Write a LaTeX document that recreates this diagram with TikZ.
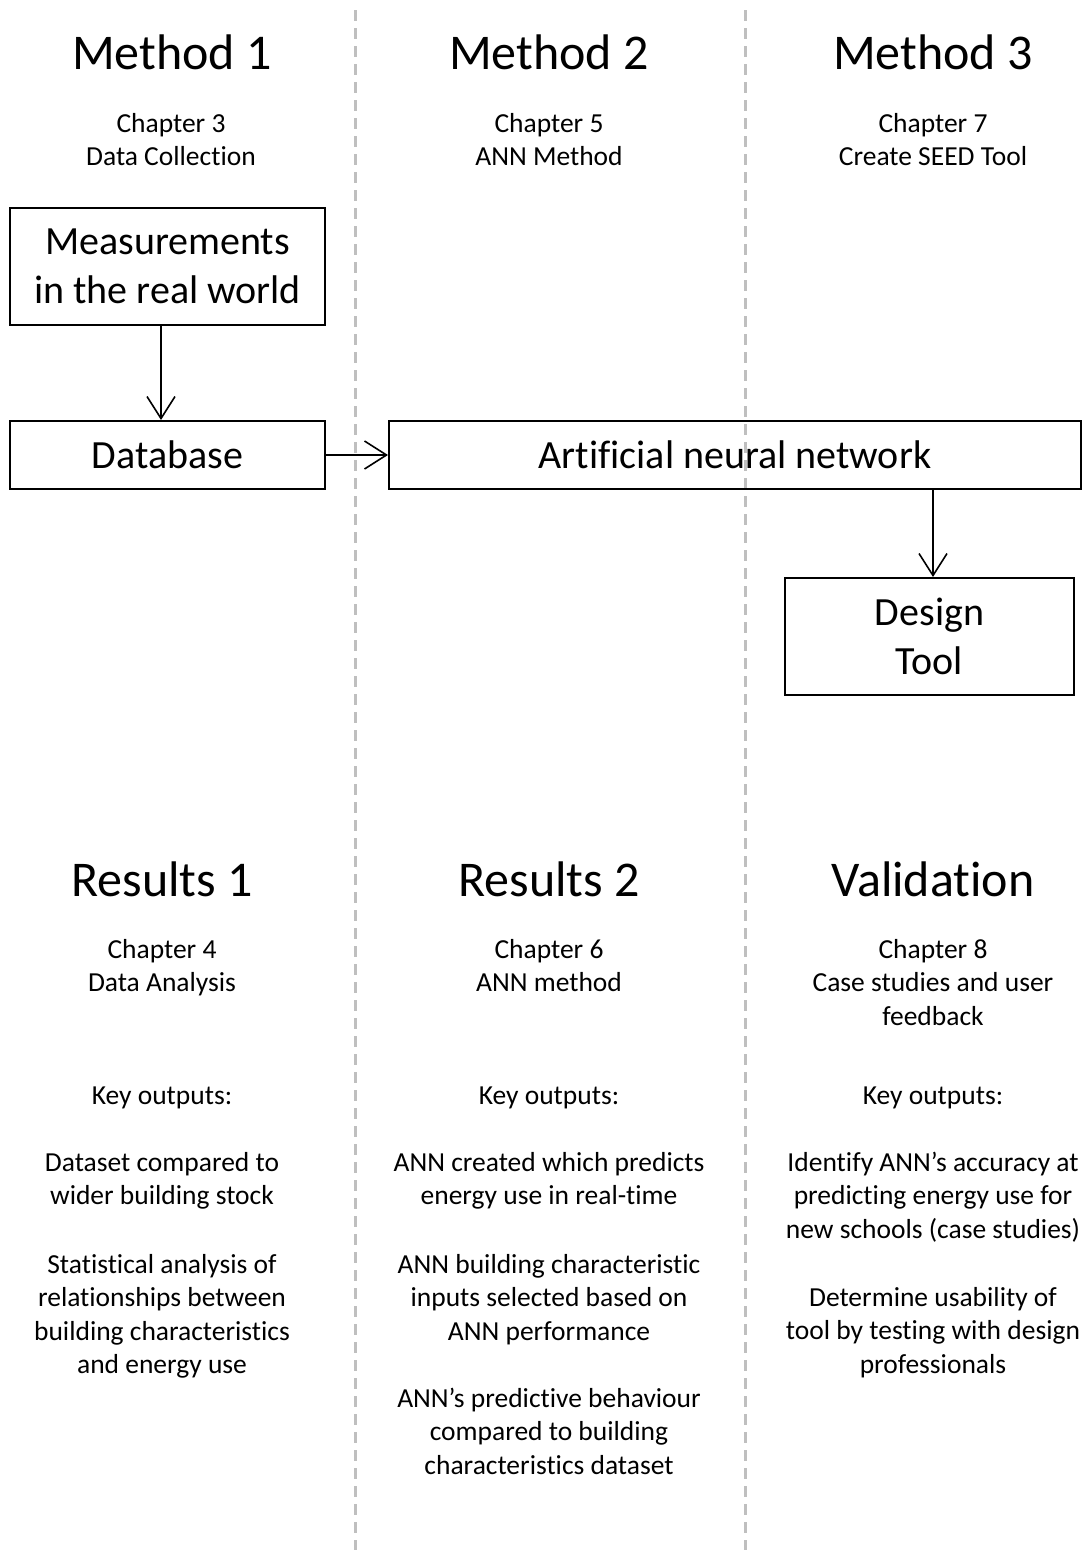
\documentclass[tikz,border=0pt]{standalone}
\usepackage{fontspec}
\setmainfont{Carlito}[Ligatures={NoCommon}]
\usetikzlibrary{arrows.meta}
\begin{document}
\begin{tikzpicture}[x=1pt,y=-1pt,
  box/.style={draw,line width=2pt,inner sep=0pt,font=\fontsize{40}{48.5}\selectfont,align=center},
  head/.style={font=\fontsize{50}{60}\selectfont,anchor=base,inner sep=0pt},
  txt/.style={font=\fontsize{27.5}{33.5}\selectfont,align=center,anchor=base,inner sep=0pt},
  arr/.style={line width=1.6pt,-{Straight Barb[length=22pt,width=28pt,line width=1.6pt]}},
  sep/.style={draw=black!25,line width=3pt,dash pattern=on 11pt off 7pt}]
\useasboundingbox[fill=white] (0,0) rectangle (1083,1550);
% separators
\coordinate (s1t) at (355,10); \coordinate (s1b) at (355,1550);
\coordinate (s2t) at (745,10); \coordinate (s2b) at (745,1550);
\draw[sep] (s1t) -- (s1b);
\draw[sep] (s2t) -- (s2b);
% headings (anchor base = baseline of the last line)
\node[head] (m1) at (172,69) {Method 1};
\node[head] (m2) at (549,69) {Method 2};
\node[head] (m3) at (933,69) {Method 3};
\node[txt] (c3) at (171,165.5) {Chapter 3\\Data Collection};
\node[txt] (c5) at (549,165.5) {Chapter 5\\ANN Method};
\node[txt] (c7) at (933,165.5) {Chapter 7\\Create SEED Tool};
% boxes
\node[box,minimum width=315pt,minimum height=117pt] (meas) at (167.5,266.5) {Measurements\\in the real world};
\node[box,minimum width=315pt,minimum height=68pt] (db) at (167.5,455) {Database};
\node[box,minimum width=692pt,minimum height=68pt] (ann) at (735,455) {Artificial neural network};
\node[box,minimum width=289pt,minimum height=117pt] (tool) at (929.5,636.5) {Design\\Tool};
\draw[arr] ([xshift=-6.5pt]meas.south) -- ([xshift=-6.5pt]db.north);
\draw[arr] (db.east) -- (ann.west);
\draw[arr] ([xshift=3.5pt]tool.north |- ann.south) -- ([xshift=3.5pt]tool.north);
% results
\node[head] (r1) at (162,896) {Results 1};
\node[head] (r2) at (549,896) {Results 2};
\node[head] (r3) at (933,896) {Validation};
\node[txt] (c4) at (162,991.5) {Chapter 4\\Data Analysis};
\node[txt] (c6) at (549,991.5) {Chapter 6\\ANN method};
\node[txt] (c8) at (933,1025) {Chapter 8\\Case studies and user\\feedback};
\node[txt] (k1) at (162,1104) {Key outputs:};
\node[txt] (k2) at (549,1104) {Key outputs:};
\node[txt] (k3) at (933,1104) {Key outputs:};
\node[txt] (o11) at (162,1204.5) {Dataset compared to\\wider building stock};
\node[txt] (o12) at (162,1373.5) {Statistical analysis of\\relationships between\\building characteristics\\and energy use};
\node[txt] (o21) at (549,1204.5) {ANN created which predicts\\energy use in real-time};
\node[txt] (o22) at (549,1340) {ANN building characteristic\\inputs selected based on\\ANN performance};
\node[txt] (o23) at (549,1474) {ANN’s predictive behaviour\\compared to building\\characteristics dataset};
\node[txt] (o31) at (933,1238) {Identify ANN’s accuracy at\\predicting energy use for\\new schools (case studies)};
\node[txt] (o32) at (933,1373) {Determine usability of\\tool by testing with design\\professionals};
\end{tikzpicture}
\end{document}
